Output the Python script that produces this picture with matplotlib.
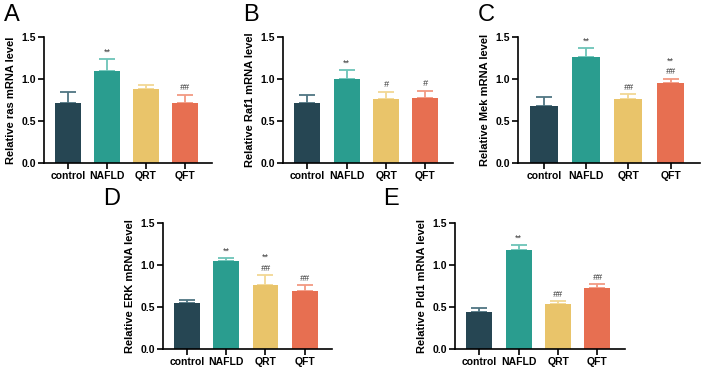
import matplotlib.pyplot as plt

plt.rcParams['font.family'] = ['Liberation Sans', 'DejaVu Sans']

groups = ['control', 'NAFLD', 'QRT', 'QFT']
colors = ['#264653', '#2a9d8f', '#e9c46a', '#e76f51']
err_colors = ['#4f7582', '#6cc4b8', '#f2d894', '#f29a82']

panels = ['A', 'B', 'C', 'D', 'E']
ylabels = ['Relative ras mRNA level', 'Relative Raf1 mRNA level', 'Relative Mek mRNA level',
           'Relative ERK mRNA level', 'Relative Pld1 mRNA level']

ras_mean = [0.72, 1.09, 0.88, 0.71]
ras_err = [0.12, 0.15, 0.05, 0.10]
raf1_mean = [0.71, 1.00, 0.76, 0.77]
raf1_err = [0.10, 0.11, 0.09, 0.09]
mek_mean = [0.68, 1.26, 0.76, 0.95]
mek_err = [0.10, 0.11, 0.06, 0.05]
erk_mean = [0.55, 1.05, 0.76, 0.69]
erk_err = [0.03, 0.03, 0.12, 0.07]
pld1_mean = [0.44, 1.18, 0.54, 0.73]
pld1_err = [0.05, 0.06, 0.03, 0.04]

# significance marks per bar, listed bottom to top
ras_sig = [[], ['**'], [], ['##']]
raf1_sig = [[], ['**'], ['#'], ['#']]
mek_sig = [[], ['**'], ['##'], ['##', '**']]
erk_sig = [[], ['**'], ['##', '**'], ['##']]
pld1_sig = [[], ['**'], ['##'], ['##']]

means = [ras_mean, raf1_mean, mek_mean, erk_mean, pld1_mean]
errs = [ras_err, raf1_err, mek_err, erk_err, pld1_err]
sigs = [ras_sig, raf1_sig, mek_sig, erk_sig, pld1_sig]

W, H = 709, 367
# axes boxes in pixels: left, right, top, bottom
boxes = [(44, 212, 37, 163), (283, 453, 37, 163), (518, 700, 37, 163),
         (163, 332, 223, 349), (455, 625, 223, 349)]
letter_x = [4, 243, 478, 103, 383]
letter_y = [4, 4, 4, 188, 188]

fig = plt.figure(figsize=(W / 100, H / 100), dpi=100)

for i in range(5):
    l, r, t, b = boxes[i]
    ax = fig.add_axes([l / W, (H - b) / H, (r - l) / W, (b - t) / H])
    x = range(len(groups))
    for j in x:
        ax.bar(j, means[i][j], width=0.66, color=colors[j], zorder=2)
        ax.errorbar(j, means[i][j], yerr=[[0], [errs[i][j]]], color=err_colors[j],
                    capsize=6, elinewidth=1.3, capthick=1.3, zorder=1)
        top = means[i][j] + errs[i][j]
        for k, s in enumerate(sigs[i][j]):
            ax.text(j, top + 0.03 + k * 0.13, s, ha='center', va='bottom',
                    fontsize=6.5, color='#3a3a3a', style='italic' if '#' in s else 'normal')
    ax.set_xlim(-0.62, 3.7)
    ax.set_ylim(0, 1.5)
    ax.set_yticks([0, 0.5, 1.0, 1.5])
    ax.set_yticklabels(['0.0', '0.5', '1.0', '1.5'])
    ax.set_xticks(list(x))
    ax.set_xticklabels(groups)
    for lab in ax.get_xticklabels() + ax.get_yticklabels():
        lab.set_fontweight('bold')
        lab.set_fontsize(7.5)
    ax.tick_params(width=1.2, length=4, pad=2)
    ax.spines['top'].set_visible(False)
    ax.spines['right'].set_visible(False)
    ax.spines['left'].set_linewidth(1.2)
    ax.spines['bottom'].set_linewidth(1.2)
    ax.set_ylabel(ylabels[i], fontsize=8, fontweight='bold', labelpad=4)
    fig.text(letter_x[i] / W, 1 - letter_y[i] / H, panels[i], fontsize=17,
             ha='left', va='top')

fig.savefig('out.png', dpi=100)
